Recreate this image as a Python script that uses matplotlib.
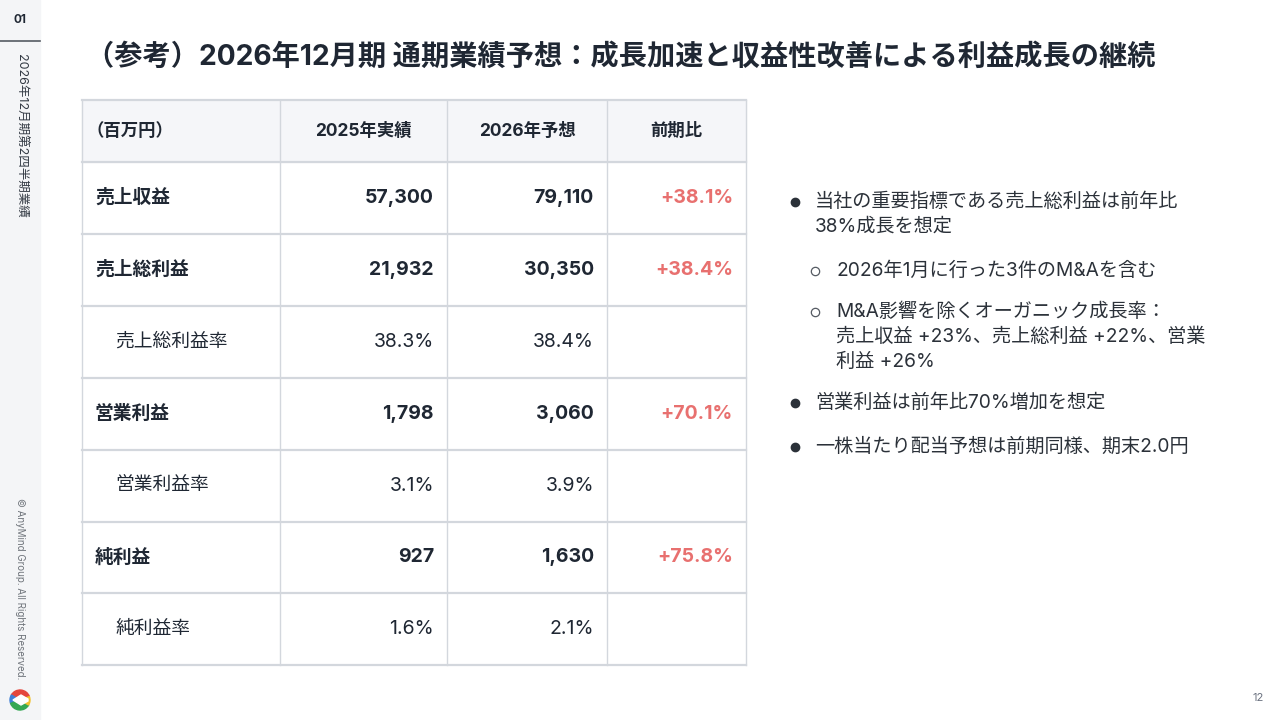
import matplotlib.pyplot as plt
from matplotlib.patches import Rectangle, Wedge, Polygon

plt.rcParams['font.family'] = ['Inter', 'Noto Sans CJK JP', 'DejaVu Sans']

# --- data ---
title = '（参考）2026年12月期 通期業績予想：成長加速と収益性改善による利益成長の継続'
header = ['（百万円）', '2025年実績', '2026年予想', '前期比']
row_labels = ['売上収益', '売上総利益', '売上総利益率', '営業利益', '営業利益率', '純利益', '純利益率']
fy2025 = [57300, 21932, 38.3, 1798, 3.1, 927, 1.6]
fy2026 = [79110, 30350, 38.4, 3060, 3.9, 1630, 2.1]
yoy = [38.1, 38.4, None, 70.1, None, 75.8, None]
is_ratio = [False, False, True, False, True, False, True]

bullets = [
    (0, ['当社の重要指標である売上総利益は前年比', '38%成長を想定']),
    (1, ['2026年1月に行った3件のM&Aを含む']),
    (1, ['M&A影響を除くオーガニック成長率：', '売上収益 +23%、売上総利益 +22%、営業', '利益 +26%']),
    (0, ['営業利益は前年比70%増加を想定']),
    (0, ['一株当たり配当予想は前期同様、期末2.0円']),
]

dark = '#1f2733'
red = '#e8706f'
grid = '#d3d7dd'
gray = '#6b7280'

fig = plt.figure(figsize=(12.8, 7.2), dpi=100)
ax = fig.add_axes([0, 0, 1, 1])
ax.set_xlim(0, 1280)
ax.set_ylim(720, 0)
ax.axis('off')

# sidebar
ax.add_patch(Rectangle((0, 0), 40, 720, color='#f4f5f7', zorder=0))
ax.plot([0, 40], [41, 41], color='#555b63', lw=1.2)
ax.text(20, 20, '01', ha='center', va='center', fontsize=8.5, color=dark, fontweight='bold')
ax.text(20, 54, '2026年12月期第2四半期業績', rotation=-90, ha='center', va='top',
        fontsize=9, color='#333a44')
ax.text(20, 498, '© AnyMind Group. All Rights Reserved.', rotation=-90, ha='center', va='top',
        fontsize=7, color='#6f747b')

# logo
cx, cy, r = 20, 700, 10
for a0, a1, c in [(20, 150, '#e4463c'), (150, 200, '#3f7fd6'), (200, 330, '#35a853'), (330, 380, '#f2c12e')]:
    ax.add_patch(Wedge((cx, cy), r, -a1, -a0, color=c, zorder=2))
ax.add_patch(Polygon([(cx - 7, cy), (cx + 1, cy - 5), (cx + 8, cy - 1), (cx + 8, cy + 1),
                      (cx + 1, cy + 5)], closed=True, color='white', zorder=3))

# title
ax.text(86, 57, title, ha='left', va='center', fontsize=20.3, fontweight='bold', color=dark)

# table
col_x = [82, 280, 447, 607, 746]
row_y = [100, 162] + [162 + 71.9 * (i + 1) for i in range(len(row_labels))]
ax.add_patch(Rectangle((col_x[0], row_y[0]), col_x[-1] - col_x[0], row_y[1] - row_y[0],
                       color='#f5f6f9', zorder=0))
for y in row_y:
    ax.plot([col_x[0], col_x[-1]], [y, y], color=grid, lw=1.6, zorder=1)
for x in col_x:
    ax.plot([x, x], [row_y[0], row_y[-1]], color=grid, lw=1.0, zorder=1)

hy = (row_y[0] + row_y[1]) / 2
ax.text(86, hy, header[0], ha='left', va='center', fontsize=12.5, fontweight='bold', color=dark)
for j in range(1, 4):
    ax.text((col_x[j] + col_x[j + 1]) / 2, hy, header[j], ha='center', va='center',
            fontsize=12.5, fontweight='bold', color=dark)

def fmt(v, ratio):
    return f'{v:.1f}%' if ratio else f'{v:,}'

for i, lab in enumerate(row_labels):
    yc = (row_y[i + 1] + row_y[i + 2]) / 2
    ratio = is_ratio[i]
    w = 'normal' if ratio else 'bold'
    ax.text(115 if ratio else 95, yc, lab, ha='left', va='center', fontsize=13.5,
            fontweight=w, color=dark)
    ax.text(col_x[2] - 13, yc, fmt(fy2025[i], ratio), ha='right', va='center', fontsize=14,
            fontweight=w, color=dark)
    ax.text(col_x[3] - 13, yc, fmt(fy2026[i], ratio), ha='right', va='center', fontsize=14,
            fontweight=w, color=dark)
    if yoy[i] is not None:
        ax.text(col_x[4] - 13, yc, f'+{yoy[i]:.1f}%', ha='right', va='center', fontsize=14,
                fontweight='bold', color=red)

# bullet list
y = 202
line_h = 25
for level, lines in bullets:
    if level == 0:
        ax.plot(795, y, 'o', ms=6, color='#2b3139')
        tx = 815
        gap = 44
    else:
        ax.plot(815, y, 'o', ms=6, mfc='white', mec='#555b63', mew=0.9)
        tx = 836
        gap = 41
    for k, ln in enumerate(lines):
        ax.text(tx, y + k * line_h, ln, ha='left', va='center', fontsize=13.8, color='#2b3139')
    y += (len(lines) - 1) * line_h + gap

ax.text(1258, 698, '12', ha='center', va='center', fontsize=8, color=gray)

fig.savefig('out.png', dpi=100, facecolor='white')
